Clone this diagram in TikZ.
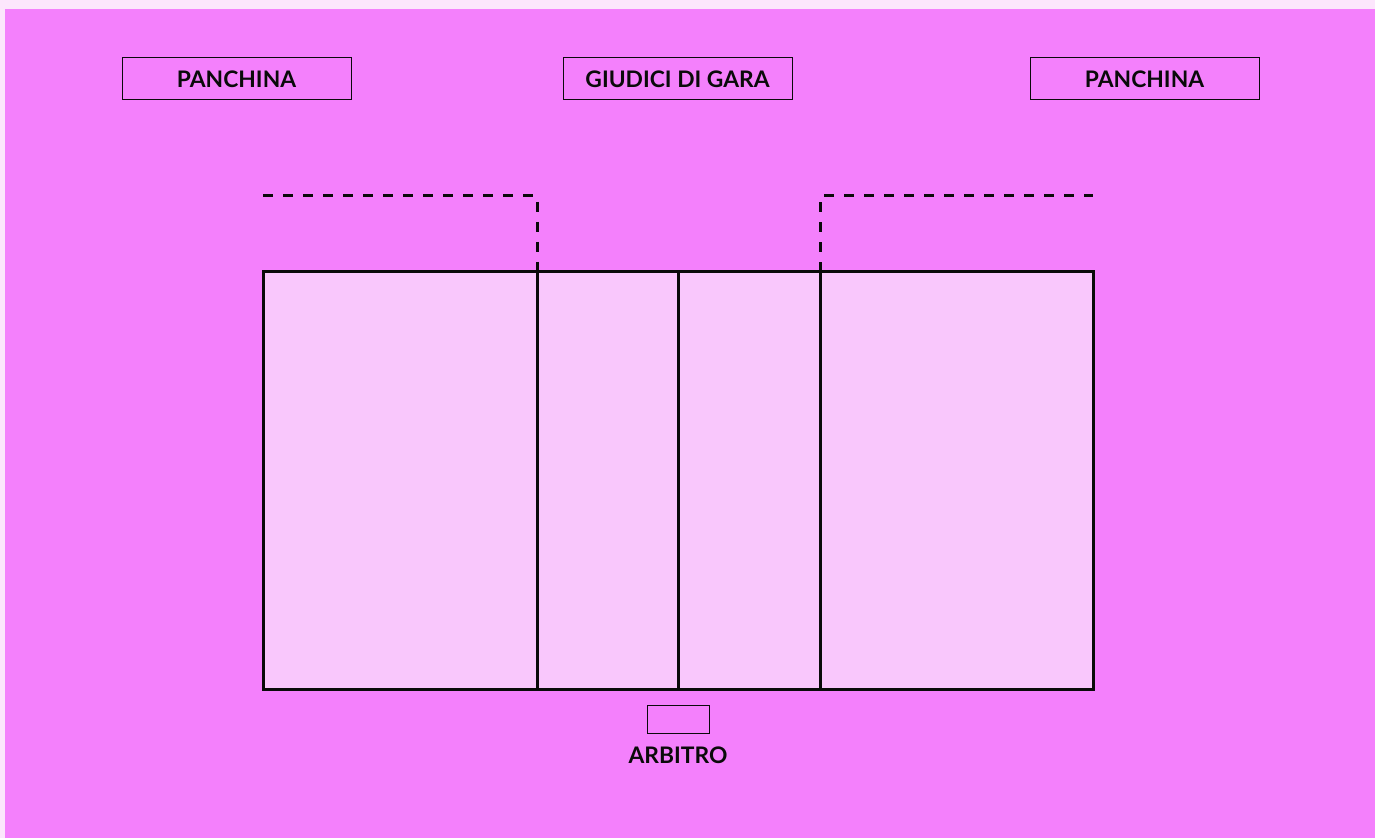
\documentclass[tikz,border=0pt]{standalone}
\usepackage{fontspec}
\setmainfont{Lato}
\usetikzlibrary{positioning}
\definecolor{Blush}{HTML}{FCE6FC}
\definecolor{Orchid}{HTML}{F480FC}
\definecolor{Court}{HTML}{F9C7FC}
\definecolor{Ink}{HTML}{0A0A0A}
\tikzset{
  every node/.append style={text=Ink},
  tag/.style={draw=Ink, line width=0.5pt, minimum width=114.5pt, minimum height=21pt,
              inner sep=0pt, font=\fontsize{11.4}{13}\selectfont\bfseries},
  ref/.style={draw=Ink, line width=0.5pt, minimum width=31pt, minimum height=14pt, inner sep=0pt},
  label/.style={font=\fontsize{11.4}{13}\selectfont\bfseries, inner sep=0pt},
  line/.style={draw=Ink, line width=1.5pt},
  zone/.style={line, dash pattern=on 5pt off 5pt},
}
\begin{document}
\begin{tikzpicture}[x=0.5pt, y=-0.5pt]
  \fill[Blush] (0,0) rectangle (1375,838);
  \fill[Orchid] (5,9) rectangle (1375,838);
  \useasboundingbox (0,0) rectangle (1375,838);
  % benches and table
  \node[tag] (benchL) at (236.5,79) {PANCHINA};
  \node[tag] (jury) at (677.5,79) {GIUDICI DI GARA};
  \node[tag] (benchR) at (1144.5,79) {PANCHINA};
  % court
  \coordinate (nw) at (263,272); \coordinate (se) at (1093,689);
  \fill[Court] (nw) rectangle (se);
  \draw[line] (nw) rectangle (se);
  \coordinate (atop) at (537,272); \coordinate (btop) at (820,272);
  \foreach \x in {537, 678, 820}
    \draw[line] (\x,272) -- (\x,689);
  % warm-up zones
  \coordinate (zl) at (263,196); \coordinate (zr) at (1093,196);
  \draw[zone] (zl) -- (atop |- zl) -- (atop);
  \draw[zone] (btop) -- (btop |- zr) -- (zr);
  % referee
  \node[ref] (ref) at (678,719) {};
  \node[label, below=6.5pt of ref] (reflabel) {ARBITRO};
\end{tikzpicture}
\end{document}
